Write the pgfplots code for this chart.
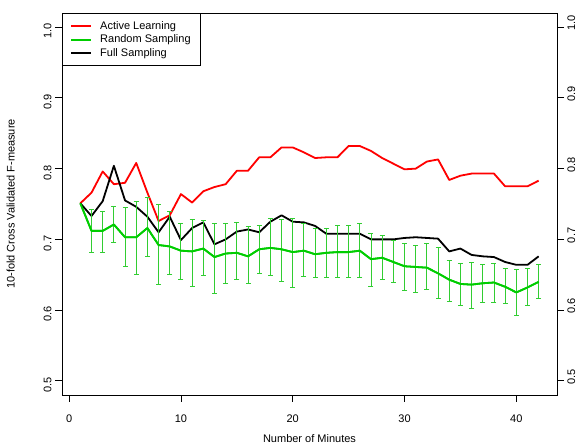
\documentclass[border=0pt]{standalone}
\usepackage{fontspec}
\setmainfont{Liberation Sans}
\usepackage{pgfplots}
\usepackage{pgfplotstable}
\pgfplotsset{compat=1.18}
\definecolor{rred}{RGB}{255,0,0}
\definecolor{rgreen}{RGB}{0,205,0}
\definecolor{ebgreen}{RGB}{50,205,50}

\pgfplotstableread{
x r b g
1 0.751 0.751 0.751
2 0.766 0.733 0.712
3 0.796 0.754 0.712
4 0.778 0.804 0.721
5 0.780 0.755 0.703
6 0.808 0.746 0.703
7 0.766 0.732 0.716
8 0.726 0.710 0.692
9 0.734 0.732 0.690
10 0.764 0.699 0.684
11 0.752 0.716 0.683
12 0.768 0.724 0.687
13 0.774 0.693 0.675
14 0.778 0.700 0.680
15 0.797 0.711 0.681
16 0.797 0.714 0.676
17 0.816 0.710 0.686
18 0.816 0.725 0.688
19 0.830 0.734 0.686
20 0.830 0.725 0.682
21 0.823 0.724 0.684
22 0.815 0.719 0.679
23 0.816 0.708 0.681
24 0.816 0.708 0.682
25 0.832 0.708 0.682
26 0.832 0.708 0.684
27 0.825 0.700 0.672
28 0.815 0.700 0.674
29 0.807 0.700 0.668
30 0.799 0.702 0.662
31 0.800 0.703 0.661
32 0.810 0.702 0.660
33 0.813 0.701 0.652
34 0.784 0.683 0.643
35 0.790 0.687 0.637
36 0.793 0.678 0.636
37 0.793 0.676 0.638
38 0.793 0.675 0.639
39 0.775 0.668 0.633
40 0.775 0.664 0.625
41 0.775 0.664 0.632
42 0.783 0.676 0.640
}\datatable

\pgfplotstableread{
x g ep em
2 0.712 0.031 0.031
3 0.712 0.027 0.030
4 0.721 0.025 0.026
5 0.703 0.042 0.041
6 0.703 0.050 0.052
7 0.716 0.043 0.040
8 0.692 0.057 0.056
9 0.690 0.049 0.039
10 0.684 0.038 0.040
11 0.683 0.045 0.049
12 0.687 0.040 0.038
13 0.675 0.047 0.052
14 0.680 0.043 0.043
15 0.681 0.043 0.038
16 0.676 0.042 0.038
17 0.686 0.033 0.034
18 0.688 0.041 0.039
19 0.686 0.042 0.045
20 0.682 0.047 0.050
21 0.684 0.038 0.036
22 0.679 0.036 0.033
23 0.681 0.034 0.035
24 0.682 0.037 0.036
25 0.682 0.037 0.036
26 0.684 0.039 0.038
27 0.672 0.037 0.038
28 0.674 0.031 0.030
29 0.668 0.030 0.029
30 0.662 0.032 0.034
31 0.661 0.030 0.036
32 0.660 0.034 0.031
33 0.652 0.037 0.036
34 0.643 0.027 0.031
35 0.637 0.029 0.030
36 0.636 0.032 0.034
37 0.638 0.027 0.027
38 0.639 0.027 0.028
39 0.633 0.026 0.024
40 0.625 0.033 0.033
41 0.632 0.027 0.025
42 0.640 0.025 0.023
}\ebtable

\begin{document}
\begin{tikzpicture}[font=\fontsize{11}{13}\selectfont]
\pgfplotsset{
  common/.style={
    scale only axis, width=495pt, height=382pt,
    xmin=-0.64, xmax=43.64, ymin=0.48, ymax=1.02,
    tick align=outside, major tick length=7pt,
    every tick/.style={black, line width=0.8pt},
    ytick={0.5,0.6,0.7,0.8,0.9,1.0},
    yticklabels={0.5,0.6,0.7,0.8,0.9,1.0},
  }
}
\begin{axis}[common,
  axis line style={line width=0.8pt},
  xtick={0,10,20,30,40}, xticklabels={0,10,20,30,40},
  xtick pos=lower, ytick pos=left,
  yticklabel style={rotate=90, anchor=south, xshift=-4pt},
  xticklabel style={yshift=-9pt},
  xlabel={Number of Minutes},
  xlabel style={yshift=-5pt},
  ylabel={10-fold Cross Validated F-measure},
  ylabel style={yshift=22pt},
  legend style={at={(0,1)}, anchor=north west, draw=black, line width=0.8pt,
    fill=white, inner xsep=8pt, inner ysep=6pt, row sep=0pt, column sep=6pt,
    font=\fontsize{11}{13}\selectfont},
  legend cell align=left,
  legend image code/.code={\draw[#1, line width=1.8pt] (0pt,0pt) -- (20pt,0pt);},
]
\coordinate (SW) at (rel axis cs:0,0);
\addplot[rred, line width=1.8pt, line join=round] table[x=x, y=r] {\datatable};
\addlegendentry{Active Learning}
\addplot[rgreen, line width=1.8pt, line join=round] table[x=x, y=g] {\datatable};
\addlegendentry{Random Sampling}
\addplot[black, line width=1.8pt, line join=round] table[x=x, y=b] {\datatable};
\addlegendentry{Full Sampling}
\addplot[draw=none, forget plot, mark=none,
  error bars/.cd, y dir=both, y explicit,
  error bar style={ebgreen, line width=0.9pt},
  error mark options={ebgreen, line width=0.9pt, mark size=2.5pt, rotate=90}]
  table[x=x, y=g, y error plus=ep, y error minus=em] {\ebtable};
\addplot[rgreen, line width=1.8pt, line join=round, forget plot] table[x=x, y=g] {\datatable};
\end{axis}
\begin{axis}[common,
  axis x line=none, axis y line*=right,
  axis line style={line width=0.8pt},
  ytick pos=right, yticklabel pos=right,
  yticklabel style={rotate=90, anchor=north, xshift=4pt},
]
\end{axis}
\pgfresetboundingbox
\path[use as bounding box] ([shift={(-62pt,-51pt)}]SW) rectangle ([shift={(521pt,395pt)}]SW);
\end{tikzpicture}
\end{document}
